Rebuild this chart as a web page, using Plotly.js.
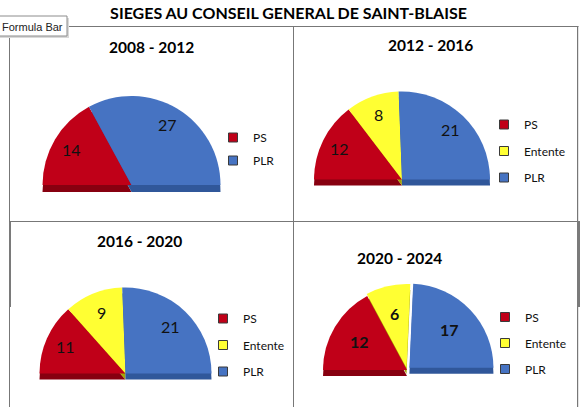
<!DOCTYPE html>
<html><head><meta charset="utf-8">
<script src="https://cdn.plot.ly/plotly-3.0.1.min.js"></script>
<style>html,body{margin:0;padding:0;overflow:hidden;background:#fff}#chart{width:587px;height:520px}</style>
</head><body><div id="chart"></div>
<script>
// ---- data ----
const mainTitle = 'SIEGES AU CONSEIL GENERAL DE SAINT-BLAISE';
const periods = ['2008 - 2012', '2012 - 2016', '2016 - 2020', '2020 - 2024'];
const parties = ['PS', 'Entente', 'PLR'];
const seatsPS = [14, 12, 11, 12];
const seatsEntente = [0, 8, 9, 6];
const seatsPLR = [27, 21, 21, 17];

// ---- styles / layout geometry ----
const W = 587, H = 520;
const colors = ['#C00018', '#FFFF33', '#4673C2'];
const rimColors = ['#870010', '#A5A500', '#30579A'];
const FONT = 'Lato, "Open Sans", sans-serif';
const geom = [
  {cx: 131.5, cy: 185, r: 89, rim: 7, pull: [0, 0, 0, 0], bold: false, lab: 0.79, title: [151, 46.7], leg: [253, 133], gap: 4},
  {cx: 402, cy: 179.5, r: 88, rim: 6, pull: [0, 0, 0, 0], bold: false, lab: 0.79, title: [430, 45], leg: [524, 120], gap: 7.5},
  {cx: 125.5, cy: 373.5, r: 86, rim: 6, pull: [0, 0, 0, 0], bold: false, lab: 0.76, title: [139.7, 240.7], leg: [243, 314], gap: 7.5},
  {cx: 407, cy: 370, r: 84, rim: 6, pull: [0, 0.025, 0.04, 0], bold: true, lab: 0.66, title: [399.7, 257.7], leg: [525, 312.5], gap: 7}
];
const X = p => p / W;
const Y = p => 1 - p / H;

const traces = [];
const layout = {
  width: W, height: H,
  margin: {l: 0, r: 0, t: 0, b: 0},
  paper_bgcolor: '#fff', plot_bgcolor: 'rgba(0,0,0,0)',
  xaxis: {visible: false, fixedrange: true},
  yaxis: {visible: false, fixedrange: true},
  title: {text: '<b>' + mainTitle + '</b>', x: X(288.5), xanchor: 'center', y: Y(13), yanchor: 'middle',
          font: {family: FONT, size: 16, color: '#000'}},
  annotations: [], shapes: []
};

periods.forEach((per, i) => {
  const g = geom[i];
  const vals = [seatsPS[i], seatsEntente[i], seatsPLR[i]];
  const total = vals.reduce((a, b) => a + b, 0);
  const values = vals.concat([total]);
  const labels = parties.concat(['hidden']);
  const maxPull = Math.max.apply(null, g.pull);
  const Rd = g.r * (1 + maxPull);
  const dom = (shift) => ({x: [X(g.cx - Rd), X(g.cx + Rd)], y: [Y(g.cy + shift + Rd), Y(g.cy + shift - Rd)]});
  const common = {
    type: 'pie', values: values, labels: labels, sort: false, direction: 'clockwise', rotation: -90,
    hoverinfo: 'skip', showlegend: false, pull: g.pull, textinfo: 'none'
  };
  // darker rim (3D edge) behind
  traces.push(Object.assign({}, common, {
    marker: {colors: rimColors.concat(['rgba(0,0,0,0)']), line: {width: 0}}, domain: dom(g.rim)
  }));
  // face
  traces.push(Object.assign({}, common, {
    marker: {colors: colors.concat(['rgba(0,0,0,0)']), line: {width: 0}}, domain: dom(0)
  }));
  // value labels placed on each slice's bisector (upper half-disc: 0deg = left, 180deg = right)
  let cum = 0;
  vals.forEach((v, j) => {
    const mid = (cum + v / 2) / total * Math.PI;
    cum += v;
    if (v <= 0) return;
    const rr = g.r * (g.lab + g.pull[j]);
    layout.annotations.push({
      text: g.bold ? '<b>' + v + '</b>' : String(v), xref: 'paper', yref: 'paper',
      x: X(g.cx - rr * Math.cos(mid)), y: Y(g.cy - rr * Math.sin(mid)),
      xanchor: 'center', yanchor: 'middle', showarrow: false,
      font: {family: FONT, size: 16, color: '#111'}
    });
  });
  // legend entries
  const legName = i === 0 ? 'legend' : 'legend' + (i + 1);
  parties.forEach((p, j) => {
    if (vals[j] > 0) {
      traces.push({
        type: 'scatter', x: [null], y: [null], mode: 'markers', name: p,
        legend: legName, legendgroup: 'g' + i + '_' + j, hoverinfo: 'skip',
        marker: {symbol: 'square', size: 9, color: colors[j], line: {color: '#3a3a3a', width: 1}}
      });
    }
  });
  layout[legName] = {
    x: X(g.leg[0] - 40), y: Y(g.leg[1] - 10), xanchor: 'left', yanchor: 'top',
    bgcolor: 'rgba(0,0,0,0)', borderwidth: 0, traceorder: 'grouped', tracegroupgap: g.gap,
    font: {family: FONT, size: 12, color: '#111'}, itemclick: false, itemdoubleclick: false
  };
  layout.annotations.push({
    text: '<b>' + per + '</b>', xref: 'paper', yref: 'paper', x: X(g.title[0]), y: Y(g.title[1]),
    xanchor: 'center', yanchor: 'middle', showarrow: false, font: {family: FONT, size: 15.5, color: '#000'}
  });
});

// panel borders
const ln = {color: '#777777', width: 1};
const addLine = (x0, y0, x1, y1, line) => layout.shapes.push({type: 'line', xref: 'paper', yref: 'paper',
  x0: X(x0), y0: Y(y0), x1: X(x1), y1: Y(y1), line: line || ln});
const addRect = (x0, y0, x1, y1, fill) => layout.shapes.push({type: 'rect', xref: 'paper', yref: 'paper',
  x0: X(x0), y0: Y(y0), x1: X(x1), y1: Y(y1), fillcolor: fill, line: {width: 0}});
addLine(9.5, 26.5, 578.5, 26.5);
addLine(9.5, 26.5, 9.5, 420);
addLine(293.5, 26.5, 293.5, 420);
addRect(577, 26, 578.2, 420, '#777777');
addLine(9.5, 221.5, 578.5, 221.5);
addRect(9, 222, 11, 307, '#7a7a7a');
addRect(577, 221, 580, 307, '#7a7a7a');
// "Formula Bar" tooltip box
addRect(0, 18, 69, 38, '#d9d9d9');
layout.shapes.push({type: 'rect', xref: 'paper', yref: 'paper', x0: X(-2), x1: X(67), y0: Y(16), y1: Y(36),
  fillcolor: '#ffffff', line: {color: '#8c8c8c', width: 1}});
layout.annotations.push({text: 'Formula Bar', xref: 'paper', yref: 'paper', x: X(0), y: Y(26.5),
  xanchor: 'left', yanchor: 'middle', showarrow: false,
  font: {family: '"Liberation Sans", Arial, sans-serif', size: 11, color: '#222'}});

Plotly.newPlot('chart', traces, layout, {displayModeBar: false, staticPlot: true});
</script>
</body></html>
